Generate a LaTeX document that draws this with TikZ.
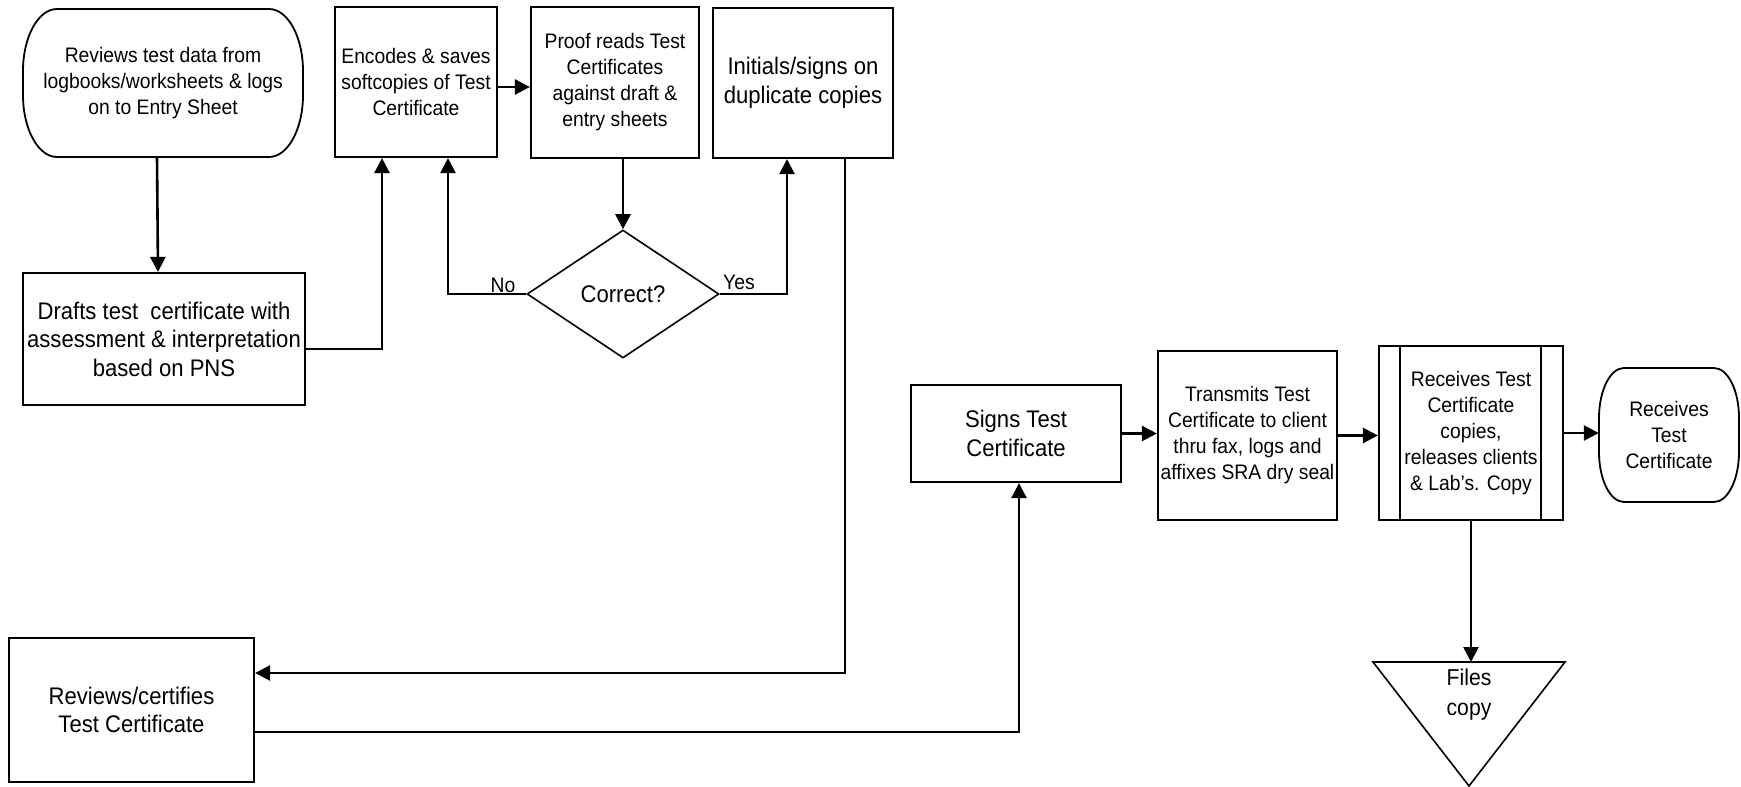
\documentclass[tikz,border=0pt]{standalone}
\usepackage{fontspec}
\setmainfont{Liberation Sans}[FakeStretch=0.92]
\usetikzlibrary{arrows.meta,shapes.geometric,calc}
\begin{document}
\begin{tikzpicture}[x=1pt,y=-1pt,
  box/.style={draw, line width=2.2pt, inner sep=0pt, align=center},
  plain/.style={inner sep=0pt, align=center},
  arr/.style={line width=2.6pt, -{Triangle[length=15pt,width=15pt]}},
  ln/.style={line width=2.6pt},
  fa/.style={font=\fontsize{21}{26}\selectfont},
  fb/.style={font=\fontsize{24}{28.5}\selectfont},
  term/.style={line width=1.8pt},
  thin/.style={line width=1.6pt}
]
\useasboundingbox (0,0) rectangle (1741,787);

% terminal 1
\node[plain,fa,minimum width=280pt,minimum height=148pt] (t1) at (163,83)
  {Reviews test data from\\logbooks/worksheets \& logs\\on to Entry Sheet};
\draw[term] (57,9) -- (269,9)
  arc[start angle=-90,end angle=0,x radius=34,y radius=62] -- (303,95)
  arc[start angle=0,end angle=90,x radius=34,y radius=62] -- (57,157)
  arc[start angle=90,end angle=180,x radius=34,y radius=62] -- (23,71)
  arc[start angle=180,end angle=270,x radius=34,y radius=62] -- cycle;

\node[box,fb,minimum width=282pt,minimum height=132pt] (dr) at (164,339)
  {Drafts test\ \ certificate with\\assessment \& interpretation\\based on PNS};
\node[box,fa,minimum width=162pt,minimum height=150pt] (enc) at (416,82)
  {Encodes \& saves\\softcopies of Test\\Certificate};
\node[box,fa,minimum width=168pt,minimum height=151pt] (proof) at (615,82.5)
  {Proof reads Test\\Certificates\\against draft \&\\entry sheets};
\node[box,fb,minimum width=180pt,minimum height=150pt] (init) at (803,83)
  {Initials/signs on\\duplicate copies};
\node[diamond,draw,thin,fb,inner sep=0pt,minimum width=192pt,minimum height=128pt] (dia) at (623,294)
  {Correct?};
\node[box,fb,minimum width=245pt,minimum height=144pt] (rev) at (131.5,710)
  {Reviews/certifies\\Test Certificate};
\node[box,fb,minimum width=210pt,minimum height=97pt] (sign) at (1016,433.5)
  {Signs Test\\Certificate};
\node[box,fa,minimum width=179pt,minimum height=169pt] (trans) at (1247.5,435.5)
  {Transmits Test\\Certificate to client\\thru fax, logs and\\affixes SRA dry seal};
\node[box,fa,minimum width=184pt,minimum height=174pt] (rc) at (1471,433)
  {Receives Test\\Certificate\\copies,\\releases clients\\\& Lab’s. Copy};
\draw[line width=2.2pt] ($(rc.north west)+(22,0)$) -- ($(rc.south west)+(22,0)$);
\draw[line width=2.2pt] ($(rc.north east)+(-23,0)$) -- ($(rc.south east)+(-23,0)$);

% terminal 2
\node[plain,fa,minimum width=140pt,minimum height=134pt] (t2) at (1669,435)
  {Receives\\Test\\Certificate};
\draw[term] (1624,368) -- (1714,368)
  arc[start angle=-90,end angle=0,x radius=25,y radius=50] -- (1739,452)
  arc[start angle=0,end angle=90,x radius=25,y radius=50] -- (1624,502)
  arc[start angle=90,end angle=180,x radius=25,y radius=50] -- (1599,418)
  arc[start angle=180,end angle=270,x radius=25,y radius=50] -- cycle;

% files triangle
\draw[thin] (1373,662) -- (1565,662) -- (1469,786) -- cycle;
\coordinate (ftop) at (1469,662);
\node[plain,fb,font=\fontsize{23}{30}\selectfont] (files) at (1469,695) {Files\\copy};

% labels
\node[plain,fa] (nolab) at (503,285) {No};
\node[plain,fa] (yeslab) at (739,282) {Yes};

% connectors
\draw[arr] ([xshift=-6pt]t1.south) -- ([xshift=-6pt]dr.north);
\draw[arr] ([yshift=-10pt]dr.east) -| ([xshift=-34pt]enc.south);
\draw[arr] ([yshift=-5pt]enc.east) -- ([yshift=-5pt]enc.east -| proof.west);
\draw[arr] (proof.south -| dia.north) -- (dia.north);
\draw[arr] (dia.west) -| ([xshift=32pt]enc.south);
\draw[arr] (dia.east) -| ([xshift=-16pt]init.south);
\draw[arr] ([xshift=42pt]init.south) |- ([yshift=37pt]rev.east);
\draw[arr] ([yshift=-22pt]rev.east) -| ([xshift=3pt]sign.south);
\draw[arr] (sign.east) -- (sign.east -| trans.west);
\draw[arr] (trans.east) -- (trans.east -| rc.west);
\draw[arr] (rc.east) -- (rc.east -| t2.west);
\draw[arr] (rc.south) -- (rc.south |- ftop);
\end{tikzpicture}
\end{document}
